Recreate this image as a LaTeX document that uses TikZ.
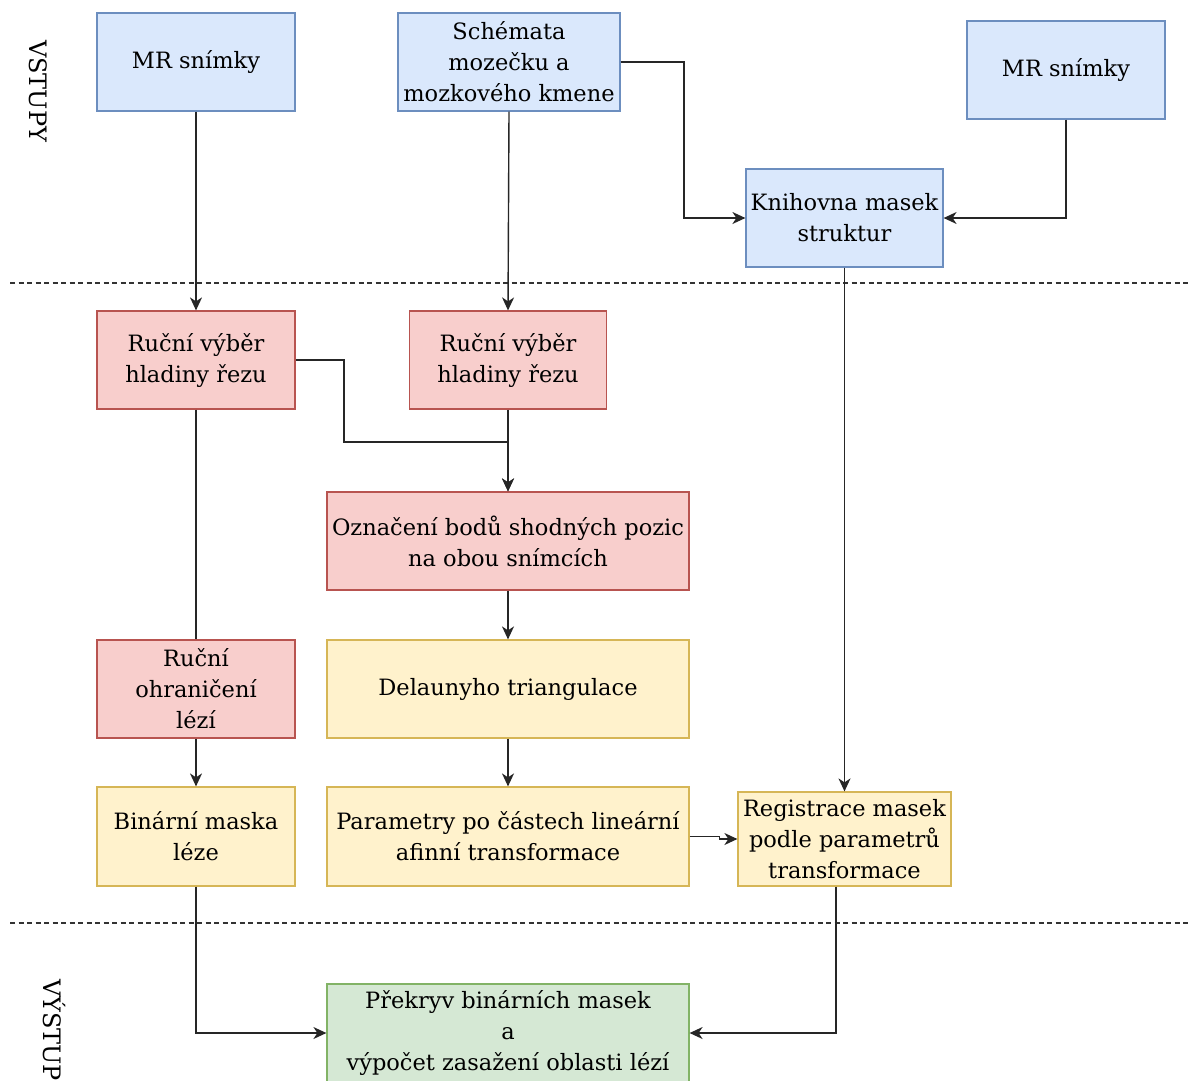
\documentclass[tikz,border=0pt]{standalone}
\usepackage{fontspec}
\setmainfont{DejaVu Serif}
\usetikzlibrary{arrows.meta,calc}
\definecolor{bfill}{HTML}{DAE8FC}\definecolor{bdraw}{HTML}{6C8EBF}
\definecolor{rfill}{HTML}{F8CECC}\definecolor{rdraw}{HTML}{B85450}
\definecolor{yfill}{HTML}{FFF2CC}\definecolor{ydraw}{HTML}{D6B656}
\definecolor{gfill}{HTML}{D5E8D4}\definecolor{gdraw}{HTML}{82B366}
\tikzset{
  box/.style={draw, line width=1.2pt, inner sep=0pt, align=center,
    font=\fontsize{22.5}{31}\selectfont, text=black},
  bluebox/.style={box, fill=bfill, draw=bdraw},
  redbox/.style={box, fill=rfill, draw=rdraw},
  yelbox/.style={box, fill=yfill, draw=ydraw},
  grnbox/.style={box, fill=gfill, draw=gdraw},
  conn/.style={line width=1.4pt, draw=black!85},
  arr/.style={conn, -{Stealth[length=13pt,width=12pt,inset=4pt]}},
  sep/.style={line width=1.2pt, dash pattern=on 5pt off 3.5pt, draw=black!80},
  side/.style={font=\fontsize{24}{31}\selectfont, rotate=-90, inner sep=0pt}
}
\begin{document}
\begin{tikzpicture}[x=1pt,y=-1pt]
\useasboundingbox (0,0) rectangle (1188,1080);
\begin{scope}
\clip (0,0) rectangle (1188,1080);
% separators
\draw[sep] (10,283) -- (1188,283);
\draw[sep] (10,923) -- (1188,923);
\node[side] (vstupy) at (38,91) {VSTUPY};
\node[side] (vystup) at (54,1030) {VÝSTUP};
% nodes
\node[bluebox, minimum width=198pt, minimum height=98pt] (mr1) at (196,62) {MR snímky};
\node[bluebox, minimum width=222pt, minimum height=98pt] (sch) at (509,62) {Schémata\\mozečku a\\mozkového kmene};
\node[bluebox, minimum width=198pt, minimum height=98pt] (mr2) at (1066,70) {MR snímky};
\node[bluebox, minimum width=197pt, minimum height=98pt] (kni) at (844.5,218) {Knihovna masek\\struktur};
\node[redbox, minimum width=198pt, minimum height=98pt] (rv1) at (196,360) {Ruční výběr\\hladiny řezu};
\node[redbox, minimum width=197pt, minimum height=98pt] (rv2) at (508,360) {Ruční výběr\\hladiny řezu};
\node[redbox, minimum width=362pt, minimum height=98pt] (ozn) at (508,541) {Označení bodů shodných pozic\\na obou snímcích};
\node[redbox, minimum width=198pt, minimum height=98pt] (roh) at (196,689) {Ruční\\ohraničení\\lézí};
\node[yelbox, minimum width=362pt, minimum height=98pt] (del) at (508,689) {Delaunyho triangulace};
\node[yelbox, minimum width=198pt, minimum height=99pt] (bin) at (196,836.5) {Binární maska\\léze};
\node[yelbox, minimum width=362pt, minimum height=99pt] (par) at (508,836.5) {Parametry po částech lineární\\afinní transformace};
\node[yelbox, minimum width=213pt, minimum height=94pt] (reg) at (844.5,839) {Registrace masek\\podle parametrů\\transformace};
\node[grnbox, minimum width=362pt, minimum height=98pt] (pre) at (508,1033) {Překryv binárních masek\\a\\výpočet zasažení oblasti lézí};
% connectors
\coordinate (j1) at (344,442);
\coordinate (j2) at (684,140);
\coordinate (regout) at ($(reg.south)+(-8.5,0)$);
\draw[arr] (mr1.south) -- (rv1.north);
\draw[arr] (sch.south) -- (rv2.north);
\draw[arr] (sch.east) -| (j2) |- (kni.west);
\draw[arr] (mr2.south) |- (kni.east);
\draw[arr] (kni.south) -- (reg.north);
\draw[arr] (rv1.east) -| (j1) -| (ozn.north);
\draw[arr] (rv2.south) -- (ozn.north);
\draw[conn] (rv1.south) -- (roh.north);
\draw[arr] (roh.south) -- (bin.north);
\draw[arr] (ozn.south) -- (del.north);
\draw[arr] (del.south) -- (par.north);
\draw[arr] (par.east) -- ++(30,0) |- (reg.west);
\draw[arr] (bin.south) |- (pre.west);
\draw[arr] (regout) |- (pre.east);
\end{scope}
\end{tikzpicture}
\end{document}
